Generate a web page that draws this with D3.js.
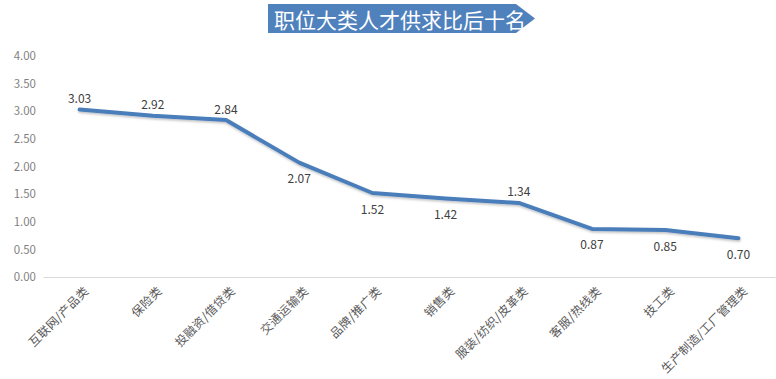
<!DOCTYPE html>
<html>
<head>
<meta charset="utf-8">
<script src="https://cdn.jsdelivr.net/npm/d3@7"></script>
<style>
  html, body { margin: 0; padding: 0; background: #ffffff; }
  svg { display: block; }
  text { font-family: "Noto Sans CJK SC", "Noto Sans", sans-serif; }
</style>
</head>
<body>
<svg id="chart" width="776" height="379"></svg>
<script>
const title = "职位大类人才供求比后十名";
const categories = ["互联网/产品类", "保险类", "投融资/借贷类", "交通运输类", "品牌/推广类", "销售类", "服装/纺织/皮革类", "客服/热线类", "技工类", "生产制造/工厂管理类"];
const values = [3.03, 2.92, 2.84, 2.07, 1.52, 1.42, 1.34, 0.87, 0.85, 0.70];
const labelAbove = [true, true, true, false, false, false, true, false, false, false];
const yTicks = [0, 0.5, 1, 1.5, 2, 2.5, 3, 3.5, 4];

const svg = d3.select("#chart");
const W = 776, H = 379;
const margin = { left: 43, right: 1, top: 56, bottom: 102 };

const x = d3.scaleBand().domain(categories).range([margin.left, W - margin.right]).paddingInner(0).paddingOuter(0);
const y = d3.scaleLinear().domain([0, 4]).range([H - margin.bottom, margin.top]);
const cx = d => x(d) + x.bandwidth() / 2;

// Title banner
const bx0 = 268, bx1 = 516, bx2 = 535, by0 = 4, by1 = 33;
svg.append("path")
  .attr("d", `M${bx0},${by0} L${bx1},${by0} L${bx2},${(by0 + by1) / 2} L${bx1},${by1} L${bx0},${by1} Z`)
  .attr("fill", "#4f81bd");
svg.append("text")
  .attr("x", 400).attr("y", 19)
  .attr("text-anchor", "middle")
  .attr("dominant-baseline", "central")
  .attr("fill", "#ffffff")
  .attr("font-size", 21)
  .text(title);

// Y axis labels
const yAxis = d3.axisLeft(y).tickValues(yTicks).tickFormat(d3.format(".2f")).tickSize(0).tickPadding(7);
const gy = svg.append("g").attr("transform", `translate(${margin.left},0)`).call(yAxis);
gy.select(".domain").remove();
gy.selectAll("text")
  .attr("fill", "#7f7f7f")
  .attr("font-size", 11.5)
  .attr("font-family", "'Liberation Sans', Arial, sans-serif");

// X axis baseline
const xAxis = d3.axisBottom(x).tickSize(0).tickFormat("");
const gx = svg.append("g").attr("transform", `translate(0,${y(0)})`).call(xAxis);
gx.select(".domain").attr("stroke", "#d9d9d9").attr("stroke-width", 1);

// X category labels (rotated)
svg.append("g").selectAll("text")
  .data(categories)
  .join("text")
  .attr("transform", d => `translate(${cx(d) + 6},${y(0) + 11}) rotate(-45)`)
  .attr("text-anchor", "end")
  .attr("dominant-baseline", "central")
  .attr("fill", "#595959")
  .attr("font-size", 12)
  .attr("letter-spacing", 0.3)
  .text(d => d);

// Shadow filter
const defs = svg.append("defs");
const f = defs.append("filter").attr("id", "sh").attr("x", "-5%").attr("y", "-20%").attr("width", "110%").attr("height", "140%");
f.append("feDropShadow").attr("dx", 0.5).attr("dy", 1.5).attr("stdDeviation", 1).attr("flood-color", "#000").attr("flood-opacity", 0.25);

// Line
const line = d3.line().x((d, i) => cx(categories[i])).y(d => y(d));
svg.append("path")
  .datum(values)
  .attr("d", line)
  .attr("fill", "none")
  .attr("stroke", "#4a7ebb")
  .attr("stroke-width", 4)
  .attr("stroke-linejoin", "round")
  .attr("stroke-linecap", "round")
  .attr("filter", "url(#sh)");

// Data labels
svg.append("g").selectAll("text")
  .data(values)
  .join("text")
  .attr("x", (d, i) => cx(categories[i]))
  .attr("y", (d, i) => y(d) + (labelAbove[i] ? -12 : 15))
  .attr("text-anchor", "middle")
  .attr("dominant-baseline", "central")
  .attr("fill", "#404040")
  .attr("font-size", 12)
  .attr("font-family", "'Liberation Sans', Arial, sans-serif")
  .text(d => d3.format(".2f")(d));
</script>
</body>
</html>
